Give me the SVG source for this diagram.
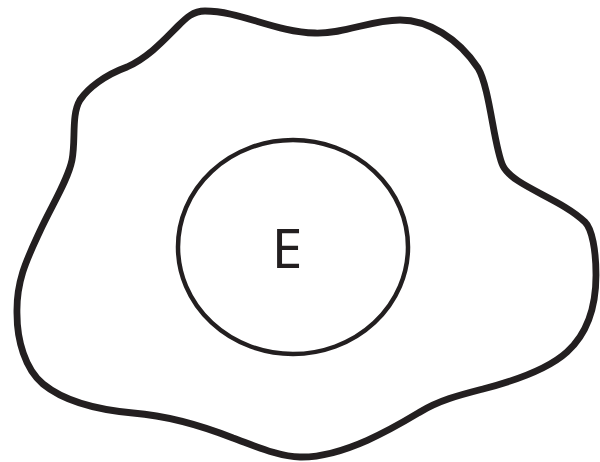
<svg xmlns="http://www.w3.org/2000/svg" width="600" height="462" viewBox="0 0 600 462">
<style>
.outer{fill:none;stroke:#231f20;stroke-width:6.8;stroke-linejoin:round}
.inner{fill:none;stroke:#231f20;stroke-width:4.5}
.lbl{font-family:"Noto Sans","Open Sans","Liberation Sans",sans-serif;font-size:55px;fill:#231f20;text-anchor:middle}
</style>
<rect width="600" height="462" fill="#ffffff"/>
<g id="outer-region">
<path class="outer" d="M205,11 C240,11 275,32 315,33 C345,34 370,20 400,20 C428,20 458,38 478,68 C490,88 494,148 503,166 C513,186 560,198 585,222 C592,229 596,250 596,275 C596,305 588,333 567,352 C546,371 510,382 483,389 C460,395 440,400 420,412 C400,424 345,458 300,457 C280,457 255,446 233,438 C205,427 170,416 133,413 C100,410 65,402 43,384 C25,369 17,340 17,314 C16,280 28,257 40,231 C52,205 68,180 72,160 C76,140 71,115 80,100 C88,88 105,75 127,67 C149,57 165,39 178,26 C186,18 193,11 205,11 Z"/>
</g>
<g id="node-E">
<ellipse class="inner" cx="293" cy="247" rx="115" ry="107"/>
<text class="lbl" x="287" y="268">E</text>
</g>
</svg>
